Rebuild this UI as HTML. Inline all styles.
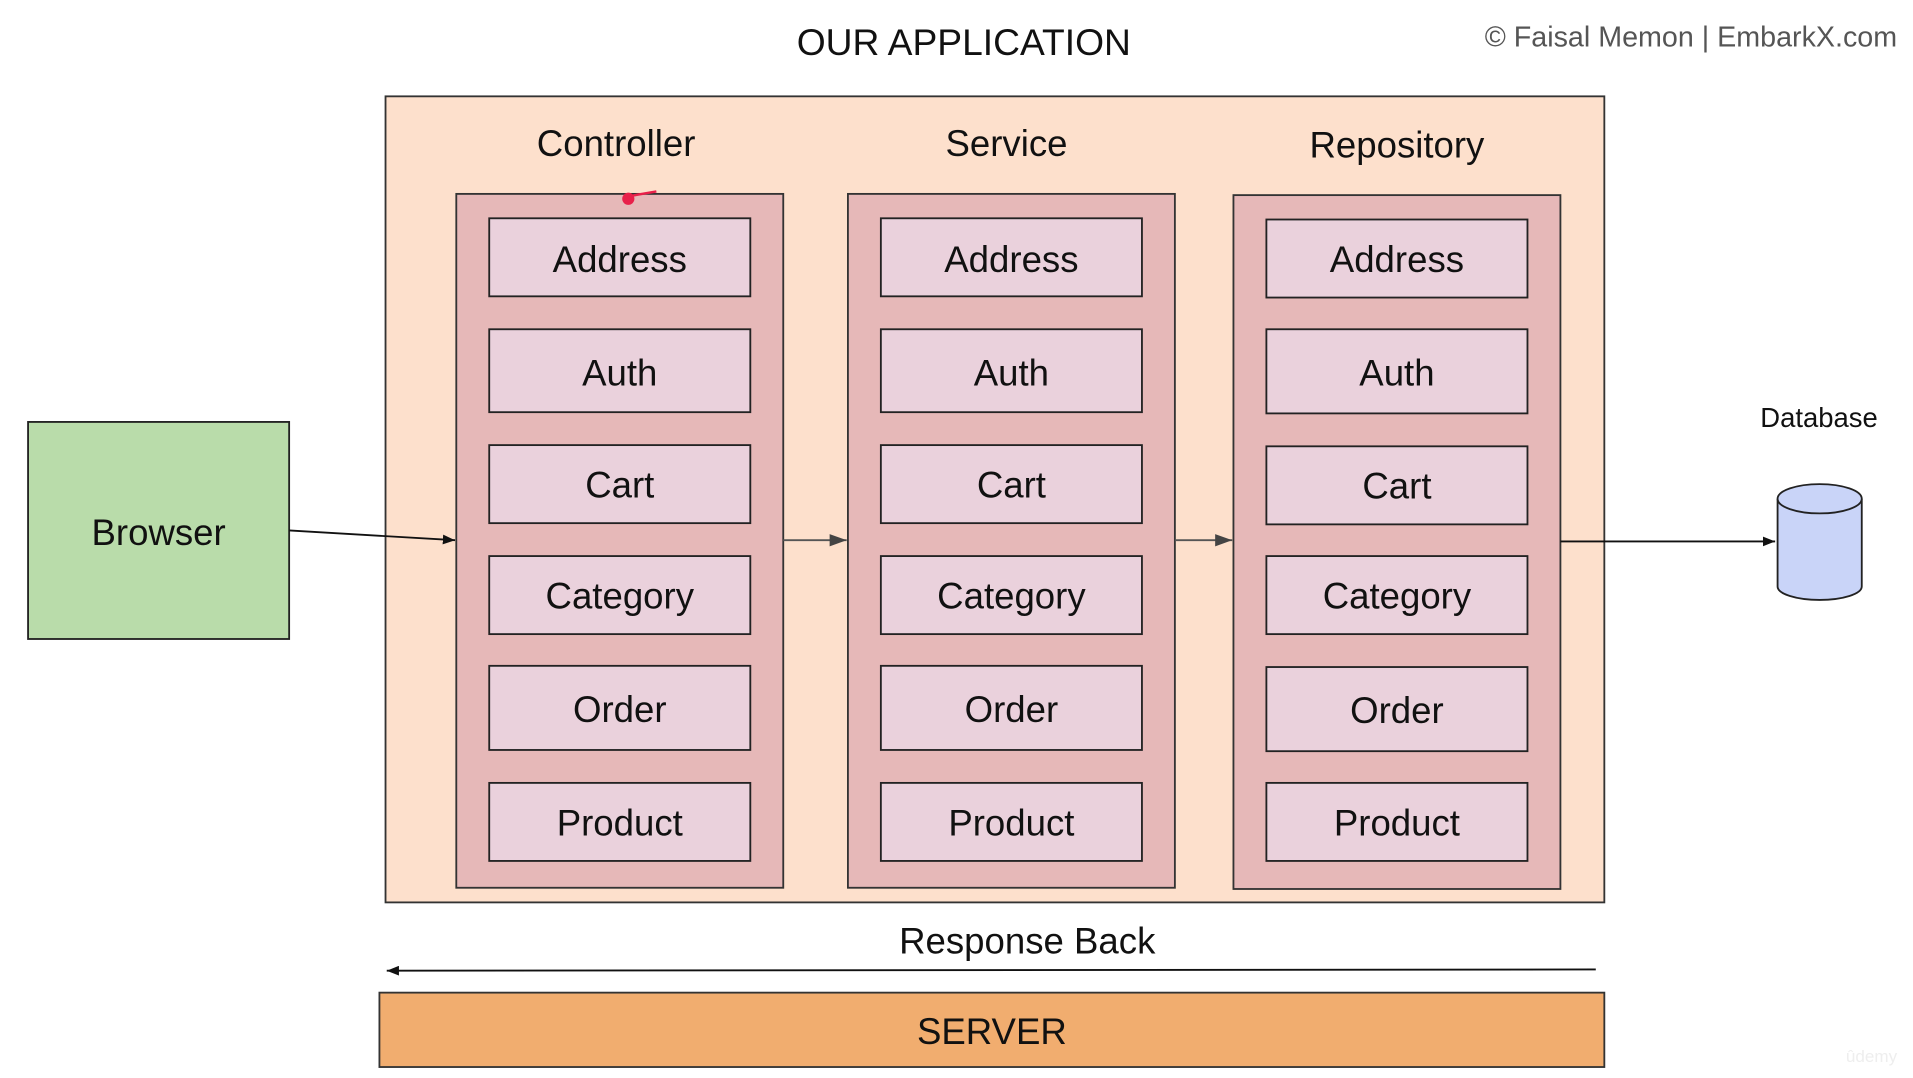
<!DOCTYPE html>
<html><head><meta charset="utf-8"><style>html,body{margin:0;padding:0;background:#fff}svg{display:block}text{font-family:"Liberation Sans",sans-serif;fill:#111}</style></head><body>
<svg width="1913" height="1078" viewBox="0 0 1568 884" preserveAspectRatio="none" xmlns="http://www.w3.org/2000/svg">
<defs><marker id="a" markerWidth="10" markerHeight="8" refX="10" refY="4" orient="auto" markerUnits="userSpaceOnUse"><path d="M0,0 L10,4 L0,8 z" fill="#111"/></marker>
<marker id="g" markerWidth="14" markerHeight="10" refX="14" refY="5" orient="auto" markerUnits="userSpaceOnUse"><path d="M0,0 L14,5 L0,10 z" fill="#444"/></marker></defs>
<text x="790" y="45" font-size="30.5" text-anchor="middle">OUR APPLICATION</text>
<text x="1555" y="38" font-size="23.5" text-anchor="end" style="fill:#555">© Faisal Memon | EmbarkX.com</text>
<rect x="316" y="79" width="999" height="661" fill="#fde0cc" stroke="#333" stroke-width="1.5"/>
<g font-size="30" text-anchor="middle">
<text x="505" y="128">Controller</text><text x="825" y="128">Service</text><text x="1145" y="129">Repository</text>
</g>
<g stroke="#333" stroke-width="1.5" fill="#e6b8b8">
<rect x="374" y="159" width="268" height="569"/><rect x="695" y="159" width="268" height="569"/><rect x="1011" y="160" width="268" height="569"/>
</g>
<g stroke="#222" stroke-width="1.5" fill="#ead1dc">
<rect x="401" y="179" width="214" height="64"/><rect x="401" y="270" width="214" height="68"/><rect x="401" y="365" width="214" height="64"/><rect x="401" y="456" width="214" height="64"/><rect x="401" y="546" width="214" height="69"/><rect x="401" y="642" width="214" height="64"/>
<rect x="722" y="179" width="214" height="64"/><rect x="722" y="270" width="214" height="68"/><rect x="722" y="365" width="214" height="64"/><rect x="722" y="456" width="214" height="64"/><rect x="722" y="546" width="214" height="69"/><rect x="722" y="642" width="214" height="64"/>
<rect x="1038" y="180" width="214" height="64"/><rect x="1038" y="270" width="214" height="69"/><rect x="1038" y="366" width="214" height="64"/><rect x="1038" y="456" width="214" height="64"/><rect x="1038" y="547" width="214" height="69"/><rect x="1038" y="642" width="214" height="64"/>
</g>
<g font-size="30" text-anchor="middle">
<text x="508" y="223">Address</text><text x="508" y="316">Auth</text><text x="508" y="408">Cart</text><text x="508" y="499">Category</text><text x="508" y="592">Order</text><text x="508" y="685">Product</text>
<text x="829" y="223">Address</text><text x="829" y="316">Auth</text><text x="829" y="408">Cart</text><text x="829" y="499">Category</text><text x="829" y="592">Order</text><text x="829" y="685">Product</text>
<text x="1145" y="223">Address</text><text x="1145" y="316">Auth</text><text x="1145" y="409">Cart</text><text x="1145" y="499">Category</text><text x="1145" y="593">Order</text><text x="1145" y="685">Product</text>
</g>
<circle cx="515" cy="163" r="5" fill="#e8204a"/><path d="M515,161 L538,157" stroke="#e8204a" stroke-width="2"/>
<rect x="23" y="346" width="214" height="178" fill="#b9dcaa" stroke="#222" stroke-width="1.5"/>
<text x="130" y="447" font-size="30" text-anchor="middle">Browser</text>
<g stroke="#111" stroke-width="1.5">
<line x1="237" y1="435" x2="373" y2="443" marker-end="url(#a)"/>
<line x1="642" y1="443" x2="694" y2="443" stroke="#555" marker-end="url(#g)"/>
<line x1="963" y1="443" x2="1010" y2="443" stroke="#555" marker-end="url(#g)"/>
<line x1="1279" y1="444" x2="1455" y2="444" marker-end="url(#a)"/>
<line x1="1308" y1="795" x2="317" y2="796" marker-end="url(#a)"/>
</g>
<text x="1491" y="350" font-size="22.5" text-anchor="middle">Database</text>
<path d="M1457,409 L1457,481 A34.5,11 0 0 0 1526,481 L1526,409" fill="#c9d4f8" stroke="#222" stroke-width="1.5"/>
<ellipse cx="1491.5" cy="409" rx="34.5" ry="12" fill="#c9d4f8" stroke="#222" stroke-width="1.5"/>
<text x="842" y="782" font-size="30" text-anchor="middle">Response Back</text>
<rect x="311" y="814" width="1004" height="61" fill="#f1ad6f" stroke="#333" stroke-width="1.5"/>
<text x="813" y="856" font-size="30" text-anchor="middle">SERVER</text>
<text x="1534" y="871" font-size="14" text-anchor="middle" style="fill:#eee">ûdemy</text>
</svg>
</body></html>
